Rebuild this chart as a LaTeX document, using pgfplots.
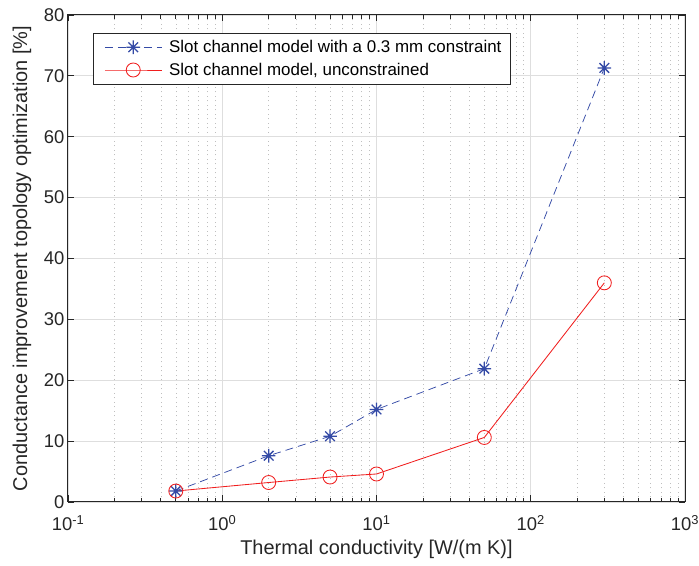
\documentclass[border=0pt]{standalone}
\usepackage{pgfplots}
\pgfplotsset{compat=1.18}
\usepackage{fontspec}
\setmainfont{Liberation Sans}
\definecolor{mblue}{RGB}{52,74,166}
\definecolor{mred}{RGB}{240,30,30}
\definecolor{gridgray}{RGB}{222,222,222}
\pgfdeclareplotmark{ast8}{%
  \pgfpathmoveto{\pgfqpoint{-\pgfplotmarksize}{0pt}}%
  \pgfpathlineto{\pgfqpoint{\pgfplotmarksize}{0pt}}%
  \pgfpathmoveto{\pgfqpoint{0pt}{-\pgfplotmarksize}}%
  \pgfpathlineto{\pgfqpoint{0pt}{\pgfplotmarksize}}%
  \pgfpathmoveto{\pgfqpoint{-0.707\pgfplotmarksize}{-0.707\pgfplotmarksize}}%
  \pgfpathlineto{\pgfqpoint{0.707\pgfplotmarksize}{0.707\pgfplotmarksize}}%
  \pgfpathmoveto{\pgfqpoint{-0.707\pgfplotmarksize}{0.707\pgfplotmarksize}}%
  \pgfpathlineto{\pgfqpoint{0.707\pgfplotmarksize}{-0.707\pgfplotmarksize}}%
  \pgfusepathqstroke}
\begin{document}
\begin{tikzpicture}
\begin{axis}[
  scale only axis, width=617bp, height=487bp,
  xmode=log, xmin=0.1, xmax=1000, ymin=0, ymax=80,
  xtick={0.1,1,10,100,1000},
  xticklabels={10\textsuperscript{-1},10\textsuperscript{0},10\textsuperscript{1},10\textsuperscript{2},10\textsuperscript{3}},
  ytick={0,10,...,80},
  /pgf/number format/assume math mode=true,
  grid=both,
  major grid style={gridgray, line width=1.2pt},
  minor grid style={black!25, dash pattern=on 1bp off 3.5bp, line width=0.6pt},
  tick align=inside,
  major tick length=6.5bp, minor tick length=4bp,
  axis line style={line width=1pt, black!85},
  tick style={black!85, line width=0.8pt},
  ticklabel style={font=\fontsize{18.5}{21}\selectfont, text=black!85},
  xticklabel style={yshift=-10bp},
  label style={font=\fontsize{20}{23}\selectfont, text=black!85},
  xlabel={Thermal conductivity [W/(m K)]},
  ylabel={Conductance improvement topology optimization [\%]},
  xlabel style={at={(axis description cs:0.5,-0.0965)}, anchor=center},
  ylabel style={at={(axis description cs:-0.0746,0.5)}, anchor=center},
  legend style={at={(axis description cs:0.0405,0.963)}, anchor=north west,
    draw=black!85, line width=0.7pt, fill=white,
    font=\fontsize{17}{19}\selectfont, row sep=5bp, inner xsep=7bp, inner ysep=5bp},
  legend cell align=left,
  legend image code/.code={\path (-4bp,0bp) (62bp,0bp);\draw[mark repeat=2,mark phase=2] plot coordinates {(0bp,0bp)(28.5bp,0bp)(57bp,0bp)};},
]
\addplot[mblue, line width=0.75pt, dash pattern=on 8bp off 5bp, mark=ast8, mark size=6.8bp, mark options={solid, line width=1.3pt}]
  coordinates {(0.5,1.8) (2,7.6) (5,10.8) (10,15.2) (50,21.9) (300,71.3)};
\addlegendentry{Slot channel model with a 0.3 mm constraint}
\addplot[mred, line width=0.85pt, mark=o, mark size=7bp, mark options={solid, line width=0.85pt}]
  coordinates {(0.5,1.8) (2,3.2) (5,4.1) (10,4.6) (50,10.6) (300,36.0)};
\addlegendentry{Slot channel model, unconstrained}
\end{axis}
\pgfresetboundingbox
\path ([xshift=-68bp,yshift=-64bp]current axis.south west) rectangle ([xshift=14bp,yshift=15bp]current axis.north east);
\end{tikzpicture}
\end{document}
